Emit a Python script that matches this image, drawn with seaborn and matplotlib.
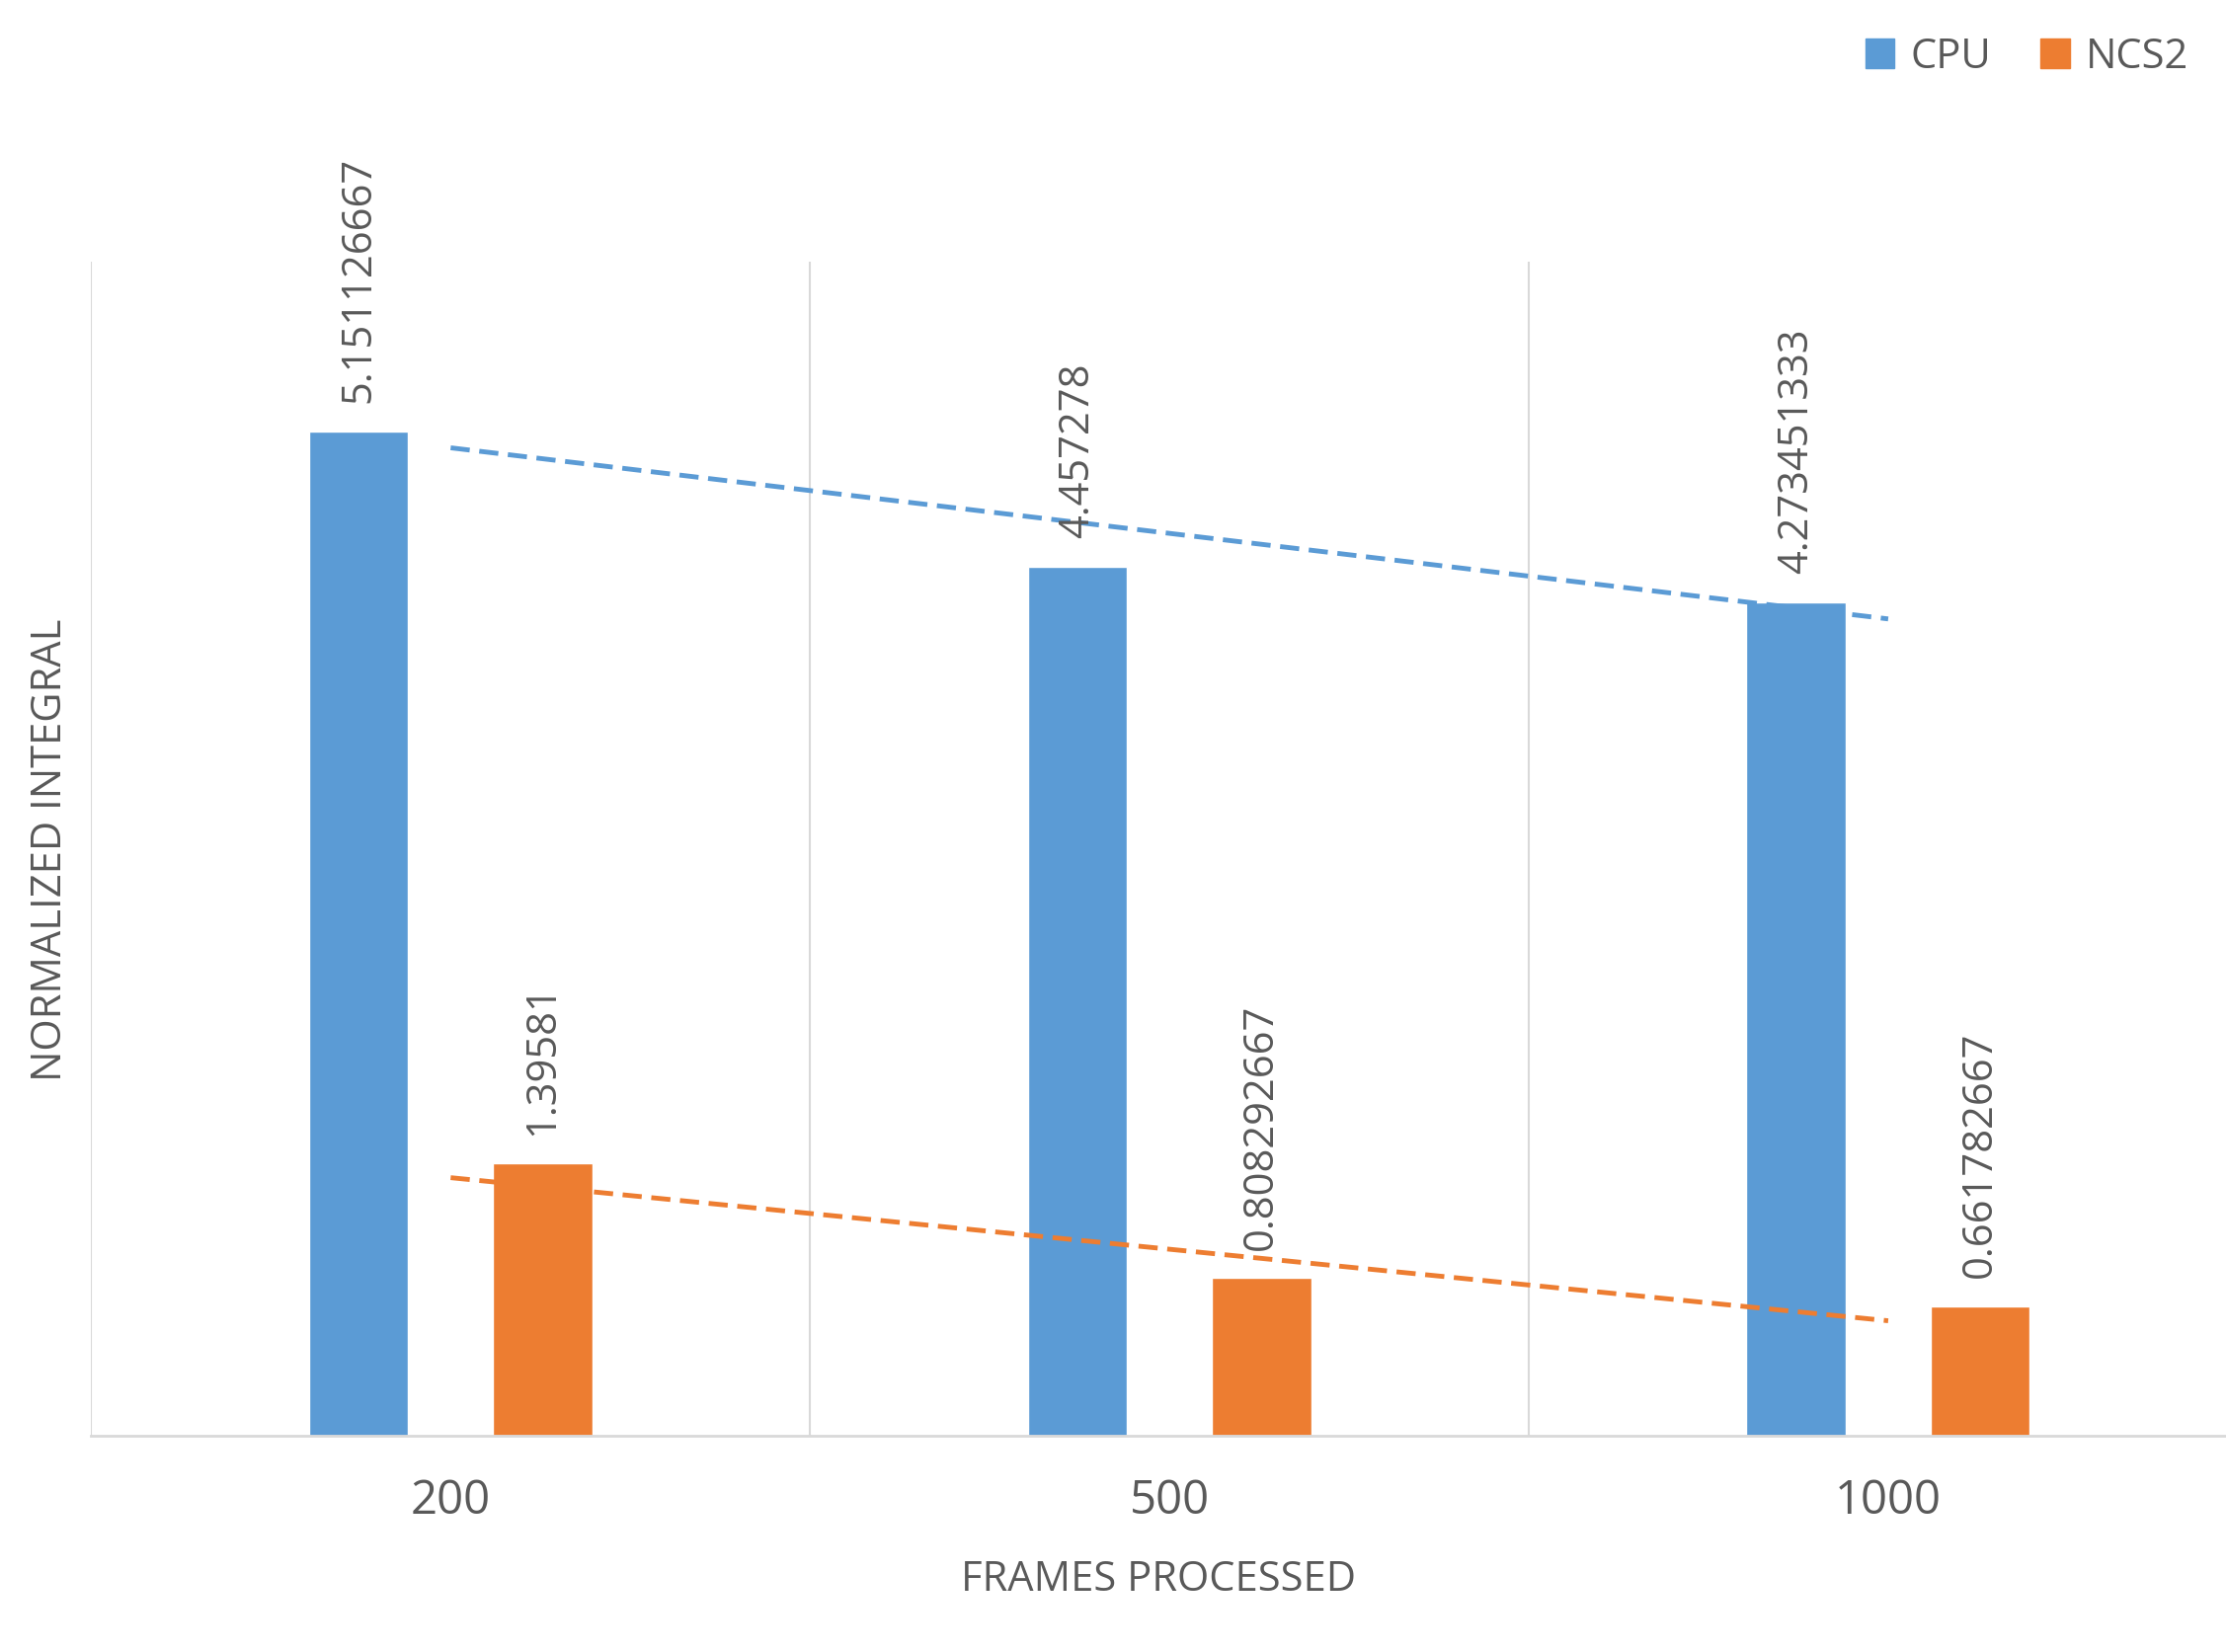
import matplotlib
matplotlib.use("Agg")
import matplotlib.pyplot as plt
import seaborn as sns
import numpy as np
import pandas as pd

frames = ["200", "500", "1000"]
cpu = [5.151126667, 4.457278, 4.273451333]
ncs2 = [1.39581, 0.808292667, 0.661782667]
cpu_labels = ["5.151126667", "4.457278", "4.273451333"]
ncs2_labels = ["1.39581", "0.808292667", "0.661782667"]

df = pd.DataFrame({
    "frames": frames * 2,
    "value": cpu + ncs2,
    "device": ["CPU"] * 3 + ["NCS2"] * 3,
})
colors = {"CPU": "#5B9BD5", "NCS2": "#ED7D31"}

sns.set_theme(style="white")
plt.rcParams['font.family'] = ['Open Sans', 'DejaVu Sans']
fig = plt.figure(figsize=(22.54, 16.74), dpi=100)
ax = fig.add_axes([0.041, 0.131, 0.959, 0.71])

sns.barplot(data=df, x="frames", y="value", hue="device", order=frames,
            palette=colors, width=0.512, gap=0.46, ax=ax, legend=False,
            saturation=1, errorbar=None)

ax.set_ylim(0, 6.02)
ax.set_xlim(-0.5, 2.47)
ax.set_yticks([])
for xv in [-0.5, 0.5, 1.5]:
    ax.axvline(xv, color="#D9D9D9", lw=1.5, zorder=0)
for s in ["left", "right", "top"]:
    ax.spines[s].set_visible(False)
ax.spines["bottom"].set_color("#D9D9D9")
ax.spines["bottom"].set_linewidth(2)

off = 0.128
x = np.arange(3)
for i in range(3):
    ax.text(x[i] - off, cpu[i] + 0.15, cpu_labels[i], rotation=90, ha="center",
            va="bottom", fontsize=30, color="#595959")
    ax.text(x[i] + off, ncs2[i] + 0.15, ncs2_labels[i], rotation=90, ha="center",
            va="bottom", fontsize=30, color="#595959")

for vals, c in [(cpu, colors["CPU"]), (ncs2, colors["NCS2"])]:
    p = np.polyfit(x, vals, 1)
    ax.plot(x, np.polyval(p, x), ls=(0, (4, 2)), color=c, lw=3.5)

ax.tick_params(axis="x", labelsize=34, labelcolor="#595959", length=0, pad=30)
ax.set_xlabel("FRAMES PROCESSED", fontsize=30, color="#595959", labelpad=25)
ax.set_ylabel("NORMALIZED INTEGRAL", fontsize=30, color="#595959", labelpad=15)

from matplotlib.patches import Patch
handles = [Patch(color=colors["CPU"], label="CPU"), Patch(color=colors["NCS2"], label="NCS2")]
fig.legend(handles=handles, loc="upper right", bbox_to_anchor=(1.0, 1.0), ncol=2,
           frameon=False, fontsize=30, handlelength=0.7, handleheight=0.7,
           columnspacing=1.2, handletextpad=0.4, labelcolor="#595959")

fig.savefig("out.png", dpi=100)
